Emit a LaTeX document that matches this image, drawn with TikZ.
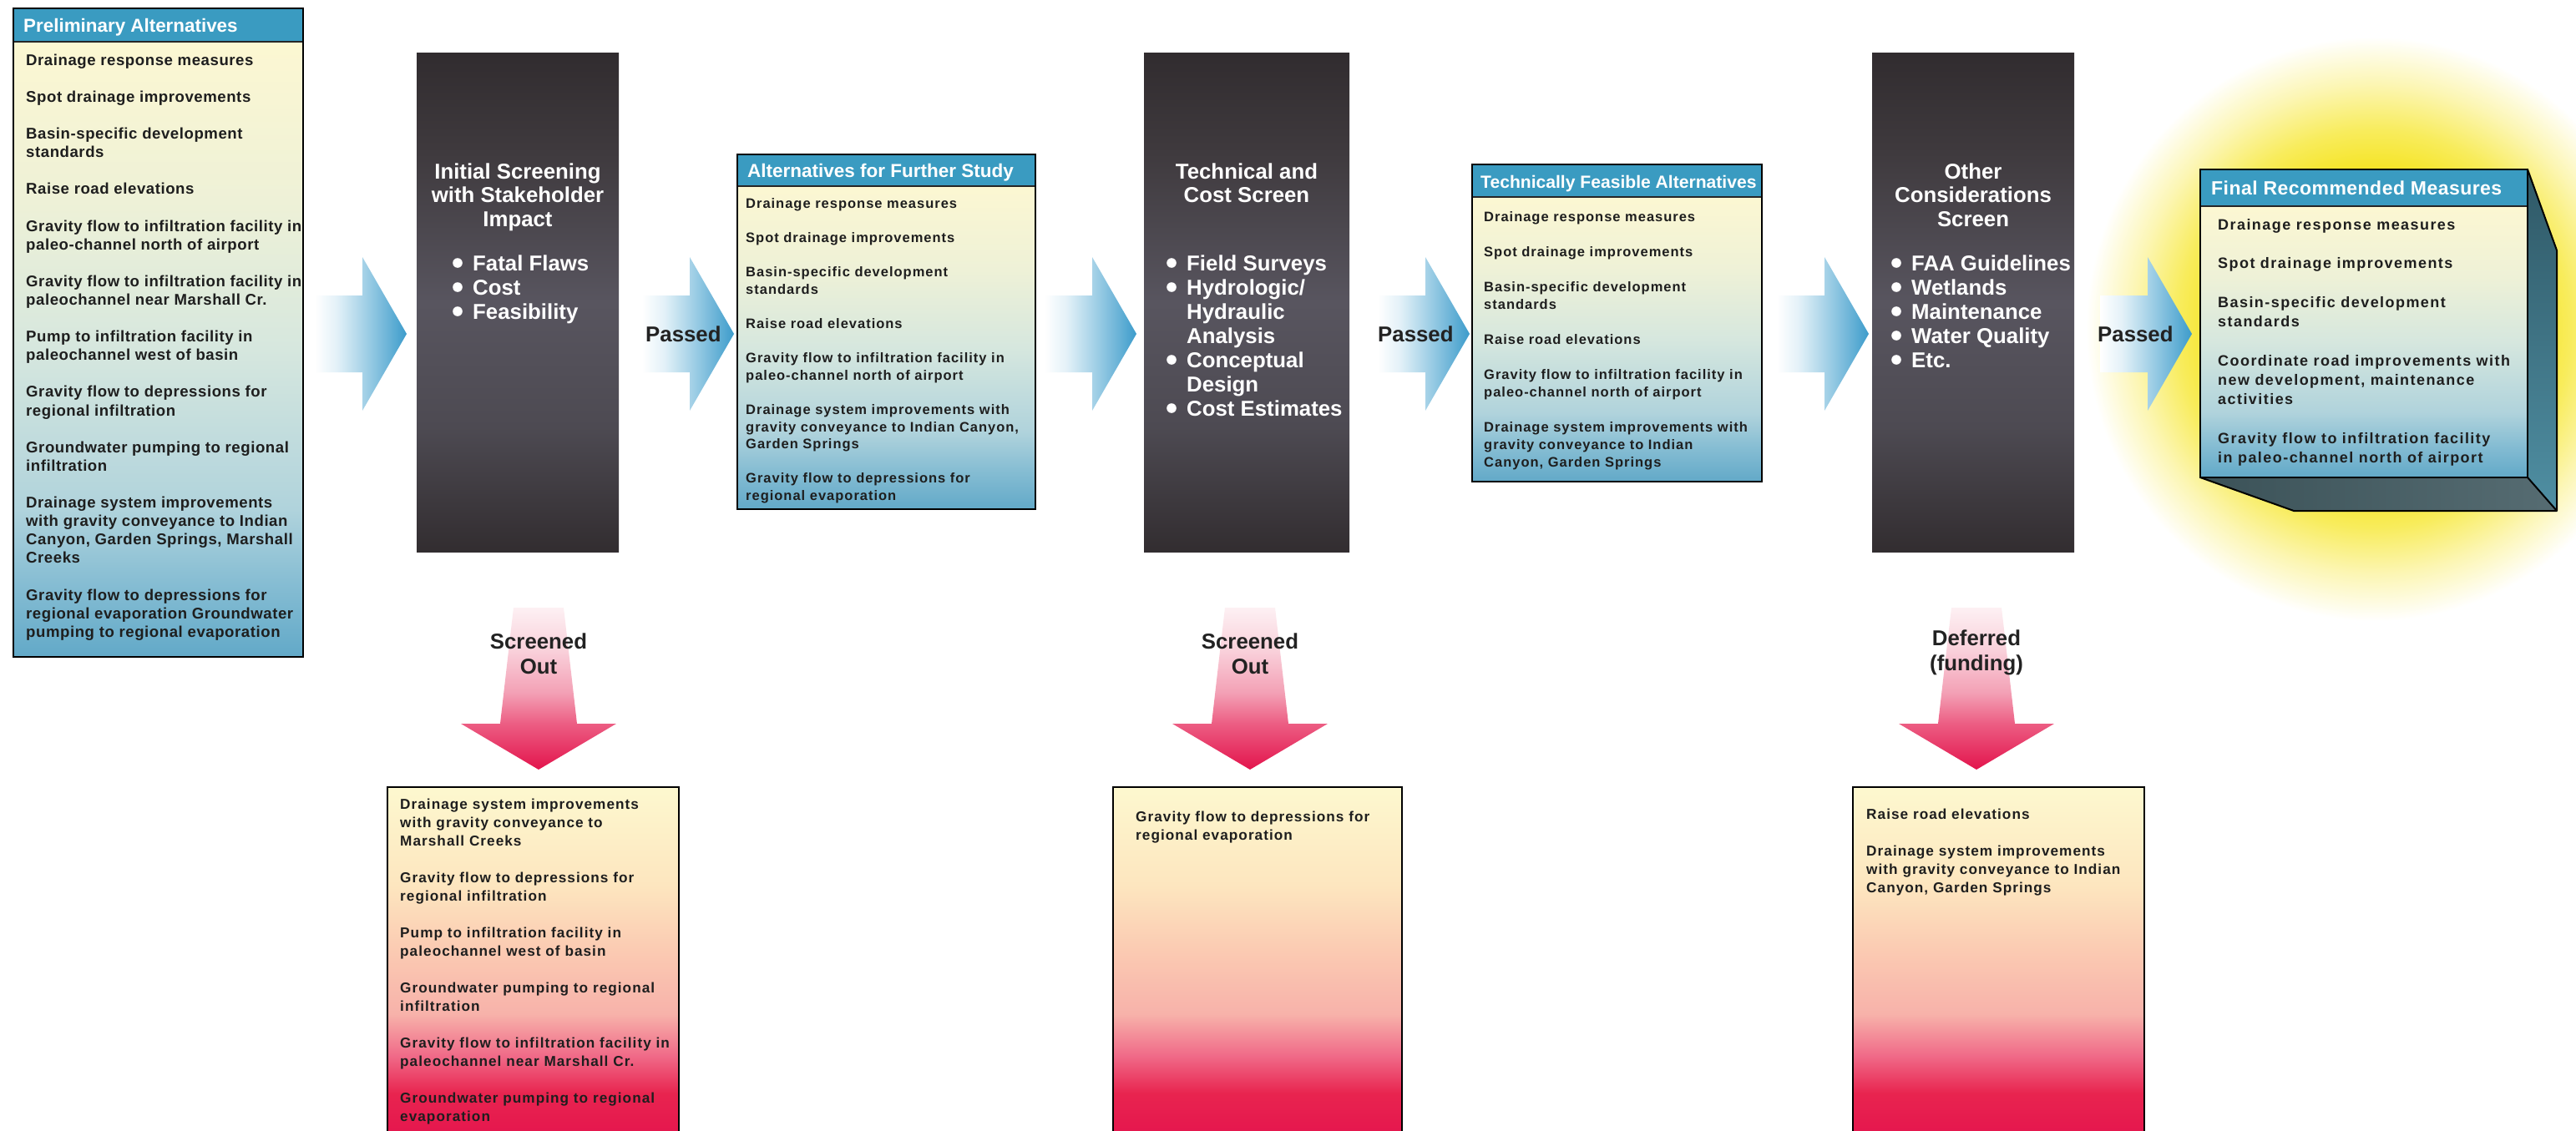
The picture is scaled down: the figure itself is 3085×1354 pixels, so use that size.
\documentclass[tikz,border=0pt]{standalone}
\usepackage{fontspec}
\setmainfont{Liberation Sans}
\newfontfamily\fA[LetterSpace=3.0]{Liberation Sans}
\newfontfamily\fB[LetterSpace=6.0]{Liberation Sans}
\newfontfamily\fF[LetterSpace=8.0]{Liberation Sans}
\newfontfamily\fH[LetterSpace=2.0]{Liberation Sans}
\usetikzlibrary{calc}

\definecolor{hdr}{HTML}{3A9BC1}
\definecolor{txt}{HTML}{1E1E1E}
\definecolor{lbltxt}{HTML}{222222}
% alternatives boxes
\definecolor{aB}{HTML}{62A9C8}
\definecolor{aB2}{HTML}{86BDD3}
\definecolor{aB3}{HTML}{B0D3DC}
\definecolor{aM}{HTML}{D6E7DE}
\definecolor{aT2}{HTML}{EEF1D7}
\definecolor{aT}{HTML}{FCF7D2}
% pink boxes
\definecolor{pA}{HTML}{E5164E}
\definecolor{pB}{HTML}{E8244F}
\definecolor{pC}{HTML}{F06A88}
\definecolor{pD}{HTML}{F7B2AA}
\definecolor{pE}{HTML}{FBCAB2}
\definecolor{pF}{HTML}{FDE6BF}
\definecolor{pG}{HTML}{FDF8CF}
% dark columns
\definecolor{dA}{HTML}{322D30}
\definecolor{dB}{HTML}{4D4A52}
\definecolor{dC}{HTML}{58555F}
\definecolor{dD}{HTML}{3F3A3E}
\definecolor{dE}{HTML}{312C2F}
% blue arrows
\definecolor{bA1}{HTML}{E3F1F8}
\definecolor{bA2}{HTML}{A8D3E8}
\definecolor{bA3}{HTML}{3D9CCB}
% pink arrows
\definecolor{qA}{HTML}{FDF0F3}
\definecolor{qB}{HTML}{F9D0DA}
\definecolor{qC}{HTML}{F3A0B5}
\definecolor{qD}{HTML}{EC5C82}
\definecolor{qE}{HTML}{E3144C}
% glow
\definecolor{gA}{HTML}{F5E31C}
\definecolor{gB}{HTML}{F8EC5C}
\definecolor{gC}{HTML}{FCF6B4}
% 3d faces
\definecolor{sideT}{HTML}{2F5866}
\definecolor{sideB}{HTML}{4F8FA3}
\definecolor{botL}{HTML}{3B5258}
\definecolor{botR}{HTML}{566C72}

\pgfdeclareverticalshading{altsh}{100bp}{color(0bp)=(aB); color(25bp)=(aB); color(31bp)=(aB2); color(37bp)=(aB3); color(50bp)=(aM); color(62bp)=(aT2); color(75bp)=(aT); color(100bp)=(aT)}
\pgfdeclareverticalshading{pinksh}{100bp}{color(0bp)=(pA); color(25bp)=(pA); color(31bp)=(pB); color(36.4bp)=(pC); color(42.4bp)=(pD); color(51.4bp)=(pE); color(61bp)=(pF); color(75bp)=(pG); color(100bp)=(pG)}
\pgfdeclareverticalshading{darksh}{100bp}{color(0bp)=(dA); color(25bp)=(dA); color(37.5bp)=(dB); color(50bp)=(dC); color(65bp)=(dD); color(75bp)=(dE); color(100bp)=(dE)}
\pgfdeclarehorizontalshading{bluesh}{100bp}{color(0bp)=(white); color(25bp)=(white); color(37bp)=(bA1); color(51bp)=(bA2); color(75bp)=(bA3); color(100bp)=(bA3)}
\pgfdeclareverticalshading{pinkar}{100bp}{color(0bp)=(qE); color(25bp)=(qE); color(39bp)=(qD); color(48.7bp)=(qC); color(61.6bp)=(qB); color(75bp)=(qA); color(100bp)=(qA)}
\pgfdeclareradialshading{glowsh}{\pgfpoint{0bp}{0bp}}{color(0bp)=(gA); color(13bp)=(gA); color(17bp)=(gB); color(21bp)=(gC); color(25bp)=(white); color(50bp)=(white)}

\newcommand\fstrut{\rule{0pt}{0.8em}}

\tikzset{
  boxline/.style={draw=black, line width=2.2pt},
  hdrline/.style={draw=black!85, line width=2pt},
  hdrtext/.style={anchor=base west, inner sep=0pt, text=white},
  bodytext/.style={anchor=north west, inner sep=0pt, align=left, text=txt},
  coltitle/.style={anchor=north, inner sep=0pt, align=center, text=white,
    font=\fontsize{25.8}{28.5}\selectfont\bfseries},
  colbul/.style={anchor=north west, inner sep=0pt, align=left, text=white,
    font=\fontsize{25.8}{29}\selectfont\bfseries},
  lbl/.style={inner sep=0pt, align=center, text=lbltxt,
    font=\fontsize{25.8}{30}\selectfont\bfseries},
  bluearrow/.pic={
    \shade[shading=bluesh] (-110,-46) -- (-53,-46) -- (-53,-92) -- (0,0)
      -- (-53,92) -- (-53,46) -- (-110,46) -- cycle;
  },
  pinkarrow/.pic={
    \shade[shading=pinkar] (-30,0) -- (30,0) -- (46,139) -- (93,139)
      -- (0,194) -- (-93,139) -- (-46,139) -- cycle;
  },
}

\begin{document}
\begin{tikzpicture}[x=1pt,y=-1pt]
\useasboundingbox[fill=white] (0,0) rectangle (3085,1354);

% ---------- glow behind final box ----------
\shade[shading=glowsh] (2843,394) ellipse [x radius=345pt, y radius=350pt];

% ---------- Preliminary Alternatives ----------
\shade[shading=altsh] (16,50) rectangle (363,787);
\fill[hdr] (16,10) rectangle (363,50);
\draw[hdrline] (16,50) -- (363,50);
\draw[boxline] (16,10) rectangle (363,787);
\node[hdrtext, font=\fontsize{22.4}{26}\selectfont\bfseries] (Lh) at (28,39) {Preliminary Alternatives};
\node[bodytext, font=\fA\fontsize{18.6}{22.1}\selectfont\bfseries] (Lb) at (31,63.1) {\fstrut Drainage response measures\\[22.1pt]
Spot drainage improvements\\[22.1pt]
Basin-specific development\\standards\\[22.1pt]
Raise road elevations\\[22.1pt]
Gravity flow to infiltration facility in\\paleo-channel north of airport\\[22.1pt]
Gravity flow to infiltration facility in\\paleochannel near Marshall Cr.\\[22.1pt]
Pump to infiltration facility in\\paleochannel west of basin\\[22.1pt]
Gravity flow to depressions for\\regional infiltration\\[22.1pt]
Groundwater pumping to regional\\infiltration\\[22.1pt]
Drainage system improvements\\with gravity conveyance to Indian\\Canyon, Garden Springs, Marshall\\Creeks\\[22.1pt]
Gravity flow to depressions for\\regional evaporation Groundwater\\pumping to regional evaporation};

% ---------- blue arrows ----------
\coordinate (t1) at (487,400);
\coordinate (t2) at (879,400);
\coordinate (t3) at (1361,400);
\coordinate (t4) at (1760,400);
\coordinate (t5) at (2238,400);
\coordinate (t6) at (2625,400);
\foreach \t in {t1,t2,t3,t4,t5,t6} { \pic (a\t) at (\t) {bluearrow}; }

% ---------- dark screening columns ----------
\shade[shading=darksh] (499,64) rectangle (741,661);
\shade[shading=darksh] (1370,64) rectangle (1616,661);
\shade[shading=darksh] (2242,64) rectangle (2484,661);

\node[coltitle] (c1t) at (620,193.4) {\fstrut Initial Screening\\with Stakeholder\\Impact};
\node[colbul] (c1b) at (566,303.4) {\fstrut Fatal Flaws\\Cost\\Feasibility};
\foreach \yy in {324,353,382} \fill[white] (548,\yy-9) circle (5.8pt);

\node[coltitle] (c2t) at (1493,193.4) {\fstrut Technical and\\Cost Screen};
\node[colbul] (c2b) at (1421,303.4) {\fstrut Field Surveys\\Hydrologic/\\Hydraulic\\Analysis\\Conceptual\\Design\\Cost Estimates};
\foreach \yy in {324,353,440,498} \fill[white] (1403,\yy-9) circle (5.8pt);

\node[coltitle] (c3t) at (2363,193.4) {\fstrut Other\\Considerations\\Screen};
\node[colbul] (c3b) at (2289,303.4) {\fstrut FAA Guidelines\\Wetlands\\Maintenance\\Water Quality\\Etc.};
\foreach \yy in {324,353,382,411,440} \fill[white] (2271,\yy-9) circle (5.8pt);

% ---------- Passed labels ----------
\node[lbl, anchor=base west] (p1) at (773,409) {Passed};
\node[lbl, anchor=base west] (p2) at (1650,409) {Passed};
\node[lbl, anchor=base west] (p3) at (2512,409) {Passed};

% ---------- Alternatives for Further Study ----------
\shade[shading=altsh] (883,223) rectangle (1240,610);
\fill[hdr] (883,185) rectangle (1240,223);
\draw[hdrline] (883,223) -- (1240,223);
\draw[boxline] (883,185) rectangle (1240,610);
\node[hdrtext, font=\fontsize{22.5}{26}\selectfont\bfseries] (B2h) at (895,212) {Alternatives for Further Study};
\node[bodytext, font=\fB\fontsize{16.5}{20.6}\selectfont\bfseries] (B2b) at (893,235.8) {\fstrut Drainage response measures\\[20.6pt]
Spot drainage improvements\\[20.6pt]
Basin-specific development\\standards\\[20.6pt]
Raise road elevations\\[20.6pt]
Gravity flow to infiltration facility in\\paleo-channel north of airport\\[20.6pt]
Drainage system improvements with\\gravity conveyance to Indian Canyon,\\Garden Springs\\[20.6pt]
Gravity flow to depressions for\\regional evaporation};

% ---------- Technically Feasible Alternatives ----------
\shade[shading=altsh] (1763,236) rectangle (2110,577);
\fill[hdr] (1763,197) rectangle (2110,236);
\draw[hdrline] (1763,236) -- (2110,236);
\draw[boxline] (1763,197) rectangle (2110,577);
\node[hdrtext, font=\fontsize{21.1}{25}\selectfont\bfseries] (B3h) at (1773,225) {Technically Feasible Alternatives};
\node[bodytext, font=\fB\fontsize{16.5}{21}\selectfont\bfseries] (B3b) at (1777,251.8) {\fstrut Drainage response measures\\[21pt]
Spot drainage improvements\\[21pt]
Basin-specific development\\standards\\[21pt]
Raise road elevations\\[21pt]
Gravity flow to infiltration facility in\\paleo-channel north of airport\\[21pt]
Drainage system improvements with\\gravity conveyance to Indian\\Canyon, Garden Springs};

% ---------- Final Recommended Measures (3D box) ----------
\shade[top color=sideT, bottom color=sideB] (3027,203) -- (3062,300) -- (3062,612) -- (3027,572) -- cycle;
\shade[left color=botL, right color=botR] (2635,572) -- (2747,612) -- (3062,612) -- (3027,572) -- cycle;
\draw[black, line width=2pt, line join=round] (3027,203) -- (3062,300) -- (3062,612) -- (2747,612) -- (2635,572);
\draw[black, line width=2pt] (3027,572) -- (3062,612);
\shade[shading=altsh] (2635,247) rectangle (3027,572);
\fill[hdr] (2635,203) rectangle (3027,247);
\draw[hdrline] (2635,247) -- (3027,247);
\draw[boxline] (2635,203) rectangle (3027,572);
\node[hdrtext, font=\fH\fontsize{23}{27}\selectfont\bfseries] (Fh) at (2648,233) {Final Recommended Measures};
\node[bodytext, font=\fF\fontsize{18}{23.3}\selectfont\bfseries] (Fb) at (2656,260.6) {\fstrut Drainage response measures\\[23.3pt]
Spot drainage improvements\\[23.3pt]
Basin-specific development\\standards\\[23.3pt]
Coordinate road improvements with\\new development, maintenance\\activities\\[23.3pt]
Gravity flow to infiltration facility\\in paleo-channel north of airport};

% ---------- pink arrows and labels ----------
\coordinate (s1) at (645,728);
\coordinate (s2) at (1497,728);
\coordinate (s3) at (2367,728);
\foreach \s in {s1,s2,s3} { \pic (d\s) at (\s) {pinkarrow}; }
\node[lbl, anchor=north] (so1) at (645,756.4) {\fstrut Screened\\Out};
\node[lbl, anchor=north] (so2) at (1497,756.4) {\fstrut Screened\\Out};
\node[lbl, anchor=north] (df3) at (2367,752.4) {\fstrut Deferred\\(funding)};

% ---------- bottom boxes ----------
\shade[shading=pinksh] (464,943) rectangle (813,1360);
\draw[boxline] (464,1360) -- (464,943) -- (813,943) -- (813,1360);
\node[bodytext, font=\fB\fontsize{17.2}{22}\selectfont\bfseries] (X1) at (479,955.2) {\fstrut Drainage system improvements\\with gravity conveyance to\\Marshall Creeks\\[22pt]
Gravity flow to depressions for\\regional infiltration\\[22pt]
Pump to infiltration facility in\\paleochannel west of basin\\[22pt]
Groundwater pumping to regional\\infiltration\\[22pt]
Gravity flow to infiltration facility in\\paleochannel near Marshall Cr.\\[22pt]
Groundwater pumping to regional\\evaporation};

\shade[shading=pinksh] (1333,943) rectangle (1679,1360);
\draw[boxline] (1333,1360) -- (1333,943) -- (1679,943) -- (1679,1360);
\node[bodytext, font=\fB\fontsize{17.2}{22}\selectfont\bfseries] (X2) at (1360,970.2) {\fstrut Gravity flow to depressions for\\regional evaporation};

\shade[shading=pinksh] (2219,943) rectangle (2568,1360);
\draw[boxline] (2219,1360) -- (2219,943) -- (2568,943) -- (2568,1360);
\node[bodytext, font=\fB\fontsize{17.2}{22}\selectfont\bfseries] (X3) at (2235,967.2) {\fstrut Raise road elevations\\[22pt]
Drainage system improvements\\with gravity conveyance to Indian\\Canyon, Garden Springs};
\end{tikzpicture}
\end{document}
